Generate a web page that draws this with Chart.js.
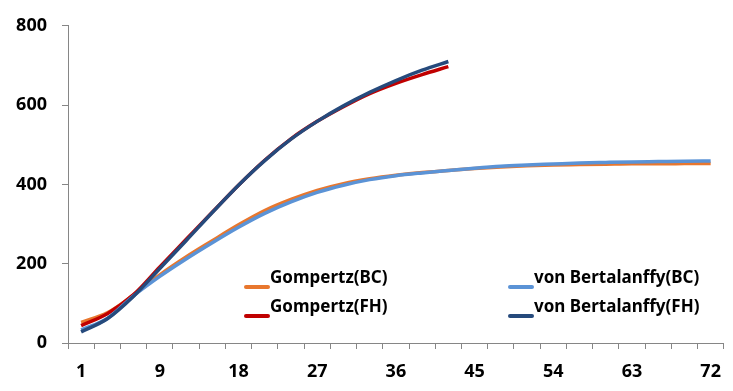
<!DOCTYPE html>
<html>
<head>
<meta charset="utf-8">
<script src="https://cdn.jsdelivr.net/npm/chart.js@4.4.1/dist/chart.umd.min.js"></script>
<style>
  html, body { margin: 0; padding: 0; background: #fff; }
  #wrap { width: 733px; height: 391px; }
</style>
</head>
<body>
<div id="wrap"><canvas id="growth" width="733" height="391"></canvas></div>
<script>
// days of observation (category axis)
const days = [1, 3, 6, 9, 12, 15, 18, 21, 24, 27, 30, 33, 36, 39, 42, 45, 48, 51, 54, 57, 60, 63, 66, 69, 72];

// fitted weights
const gompertzBC = [52, 76, 121, 172, 217, 258, 298, 334, 362, 385, 402, 414, 423, 430, 435, 440, 444, 447, 449, 450, 451, 452, 452, 452.5, 453];
const gompertzFH = [44, 74, 122, 192, 261, 330, 398, 461, 515, 559, 596, 629, 655, 677, 697];
const bertalanffyBC = [33, 62, 119, 168, 212, 253, 292, 327, 356, 380, 398, 412, 422, 429, 435, 441, 446, 449, 451.5, 454, 455.5, 456.8, 457.6, 458.4, 459];
const bertalanffyFH = [28, 61, 118, 188, 258, 329, 398, 460, 514, 559, 598, 632, 662, 688, 710];

const seriesNames = ['Gompertz(BC)', 'Gompertz(FH)', 'von Bertalanffy(BC)', 'von Bertalanffy(FH)'];
const yTicks = [0, 200, 400, 600, 800];

const FONT = '"Noto Sans", "Liberation Sans", sans-serif';
const AXIS = '#868686';

// legend drawn inside the plot, two columns
const legendInPlot = {
  id: 'legendInPlot',
  afterDatasetsDraw(chart) {
    const ctx = chart.ctx;
    const colX = [244, 508];
    const rowY = [287, 316];
    ctx.save();
    chart.data.datasets.forEach((ds, i) => {
      const col = i < 2 ? 0 : 1;
      const row = i % 2;
      const x = colX[col], y = rowY[row];
      ctx.strokeStyle = ds.borderColor;
      ctx.lineWidth = 4;
      ctx.lineCap = 'round';
      ctx.beginPath();
      ctx.moveTo(x + 2, y);
      ctx.lineTo(x + 24, y);
      ctx.stroke();
      ctx.fillStyle = '#000';
      ctx.font = 'bold 17px ' + FONT;
      ctx.textBaseline = 'alphabetic';
      ctx.fillText(ds.label, x + 26, y - 4);
    });
    ctx.restore();
  }
};

function line(label, data, color, order) {
  return {
    label, data,
    borderColor: color,
    backgroundColor: color,
    borderWidth: 3.5,
    pointRadius: 0,
    cubicInterpolationMode: 'monotone',
    fill: false,
    order
  };
}

new Chart(document.getElementById('growth'), {
  type: 'line',
  data: {
    labels: days.map(String),
    datasets: [
      line(seriesNames[0], gompertzBC, '#E8772E', 4),
      line(seriesNames[1], gompertzFH, '#C00000', 3),
      line(seriesNames[2], bertalanffyBC, '#5B93D6', 2),
      line(seriesNames[3], bertalanffyFH, '#264A7C', 1)
    ]
  },
  options: {
    responsive: false,
    devicePixelRatio: 1,
    animation: false,
    layout: { padding: { top: 17, right: 2, left: 0, bottom: 0 } },
    plugins: { legend: { display: false }, tooltip: { enabled: false } },
    scales: {
      x: {
        type: 'category',
        offset: true,
        grid: { offset: true, drawOnChartArea: false, drawTicks: true, tickLength: 6, color: AXIS },
        border: { display: true, color: AXIS, width: 1 },
        ticks: {
          autoSkip: false,
          maxRotation: 0,
          padding: 12,
          color: '#000',
          font: { family: FONT, size: 18, weight: 'bold' },
          callback: function (v, i) { return i % 3 === 0 ? this.getLabelForValue(v) : ''; }
        },
        afterFit(scale) { scale.height = 48; }
      },
      y: {
        min: yTicks[0],
        max: yTicks[yTicks.length - 1],
        afterBuildTicks(scale) { scale.ticks = yTicks.map(v => ({ value: v })); },
        grid: { drawOnChartArea: false, drawTicks: true, tickLength: 6, color: AXIS },
        border: { display: true, color: AXIS, width: 1 },
        ticks: {
          padding: 15,
          color: '#000',
          font: { family: FONT, size: 18, weight: 'bold' }
        },
        afterFit(scale) { scale.width = 68; }
      }
    }
  },
  plugins: [legendInPlot]
});
</script>
</body>
</html>
